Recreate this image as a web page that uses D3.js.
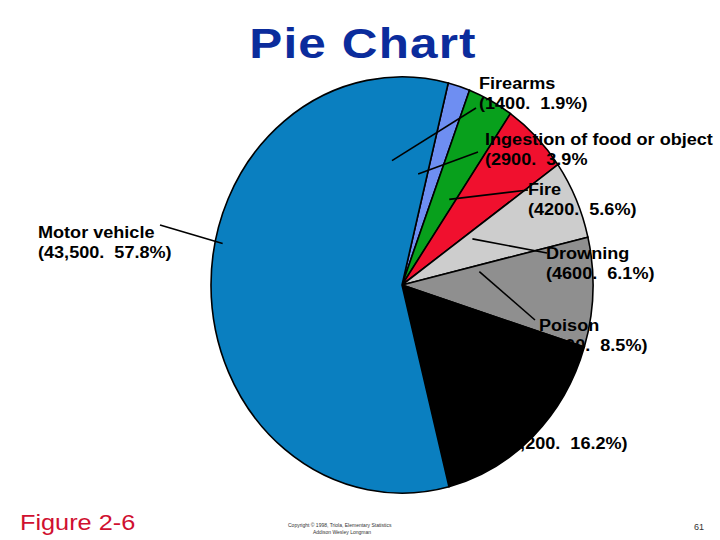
<!DOCTYPE html>
<html>
<head>
<meta charset="utf-8">
<script src="https://cdn.jsdelivr.net/npm/d3@7"></script>
<style>
  body { margin: 0; background: #fff; }
  text { font-family: "Liberation Sans", Arial, sans-serif; white-space: pre; }
</style>
</head>
<body>
<div id="chart"></div>
<script>
var categories = ["Firearms", "Ingestion of food or object", "Fire", "Drowning", "Poison", "Falls", "Motor vehicle"];
var deaths = [1400, 2900, 4200, 4600, 6400, 12200, 43500];
var valueLabels = ["1400", "2900", "4200", "4600", "6400", "12,200", "43,500"];
var percentLabels = ["1.9%)", "3.9%", "5.6%)", "6.1%)", "8.5%)", "16.2%)", "57.8%)"];
var colors = ["#6e8ef2", "#08a01c", "#f0102e", "#cdcdcd", "#8f8f8f", "#000000", "#0a7fc0"];

var width = 720;
var height = 540;
var cx = 402, cy = 285, radius = 191, squash = 1.09;
var stretch = 1.13; // the slide text is drawn a bit wide

// label layout: text anchor, leader end near text, leader angle (deg) and radius fraction inside pie
var layout = [
    { x: 479, y: 89,  lx: 476, ly: 108, a: -5,  f: 0.60 },
    { x: 485, y: 145, lx: 478, ly: 152, a: 9,   f: 0.54 },
    { x: 528, y: 195, lx: 528, ly: 190, a: 31,  f: 0.48 },
    { x: 546, y: 259, lx: 547, ly: 253, a: 59,  f: 0.43 },
    { x: 539, y: 331, lx: 535, ly: 320, a: 81,  f: 0.41 },
    { x: 494, y: 429, lx: null },
    { x: 38,  y: 238, lx: 160, ly: 225, a: 282, f: 0.96 }
];

var svg = d3.select("#chart").append("svg")
    .attr("width", width)
    .attr("height", height);

svg.append("text")
    .attr("transform", "translate(363,58) scale(1.15,1)")
    .attr("text-anchor", "middle")
    .style("font-size", "43px")
    .style("font-weight", "bold")
    .style("letter-spacing", "1px")
    .style("fill", "#0b2c9c")
    .text("Pie Chart");

var start = 14 * Math.PI / 180;
var pie = d3.pie().sort(null).startAngle(start).endAngle(start + 2 * Math.PI);
var arcs = pie(deaths);
var arc = d3.arc().innerRadius(0).outerRadius(radius);

var g = svg.append("g")
    .attr("transform", "translate(" + cx + "," + cy + ") scale(1," + squash + ")");

g.selectAll("path")
    .data(arcs)
    .enter()
    .append("path")
    .attr("d", arc)
    .style("fill", function (d, i) { return colors[i]; })
    .style("stroke", "#000")
    .style("stroke-width", 1.6)
    .attr("vector-effect", "non-scaling-stroke");

// leader lines
svg.selectAll("line.leader")
    .data(layout.filter(function (d) { return d.lx != null; }))
    .enter()
    .append("line")
    .attr("class", "leader")
    .style("stroke", "#000")
    .style("stroke-width", 1.6)
    .attr("x1", function (d) { return d.lx; })
    .attr("y1", function (d) { return d.ly; })
    .attr("x2", function (d) { return cx + Math.sin(d.a * Math.PI / 180) * radius * d.f; })
    .attr("y2", function (d) { return cy - Math.cos(d.a * Math.PI / 180) * radius * d.f * squash; });

var labels = svg.selectAll("text.lbl")
    .data(categories)
    .enter()
    .append("text")
    .attr("class", "lbl")
    .attr("transform", function (d, i) {
        return "translate(" + layout[i].x + "," + layout[i].y + ") scale(" + stretch + ",1)";
    })
    .style("font-size", "16px")
    .style("font-weight", "bold")
    .style("fill", "#000");

labels.append("tspan")
    .text(function (d) { return d; });

labels.append("tspan")
    .attr("x", 0)
    .attr("dy", 20)
    .text(function (d, i) { return "(" + valueLabels[i] + ".  " + percentLabels[i]; });

svg.append("text")
    .attr("transform", "translate(20,530) scale(1.15,1)")
    .style("font-size", "22px")
    .style("fill", "#d01030")
    .text("Figure 2-6");

svg.append("text")
    .attr("x", 288)
    .attr("y", 527)
    .style("font-size", "5px")
    .style("fill", "#333")
    .text("Copyright © 1998, Triola, Elementary Statistics");

svg.append("text")
    .attr("x", 313)
    .attr("y", 534)
    .style("font-size", "5px")
    .style("fill", "#333")
    .text("Addison Wesley Longman");

svg.append("text")
    .attr("x", 704)
    .attr("y", 530)
    .attr("text-anchor", "end")
    .style("font-size", "9px")
    .style("fill", "#333")
    .text("61");
</script>
</body>
</html>
